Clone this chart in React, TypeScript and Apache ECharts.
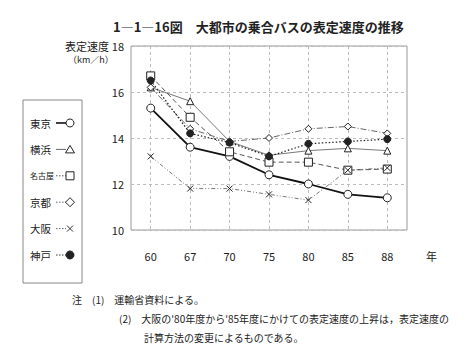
import React, { useEffect, useRef } from "react";
import * as echarts from "echarts";

const years = ["60", "67", "70", "75", "80", "85", "88"];
const tokyo = [15.3, 13.6, 13.2, 12.4, 12.0, 11.55, 11.4];
const yokohama = [16.2, 15.6, 13.85, 13.25, 13.45, 13.55, 13.45];
const nagoya = [16.7, 14.9, 13.4, 12.95, 12.95, 12.6, 12.65];
const kyoto = [16.2, 14.4, 13.85, 14.0, 14.4, 14.5, 14.2];
const osaka = [13.2, 11.8, 11.8, 11.55, 11.3, 12.6, 12.7];
const kobe = [16.5, 14.2, 13.8, 13.2, 13.75, 13.85, 13.95];
const cities = ["東京", "横浜", "名古屋", "京都", "大阪", "神戸"];

const FONT = "'Noto Sans CJK JP', sans-serif";
const X_PATH = "path://M0,0L10,10M10,0L0,10";

const styles: any[] = [
  { symbol: "circle", line: "solid", width: 1.8, color: "#111", fill: "#fff", size: 8 },
  { symbol: "triangle", line: "solid", width: 0.8, color: "#555", fill: "#fff", size: 7 },
  { symbol: "rect", line: [5, 3], width: 0.9, color: "#444", fill: "#fff", size: 8 },
  { symbol: "diamond", line: [6, 2, 1, 2], width: 0.9, color: "#555", fill: "#fff", size: 7 },
  { symbol: X_PATH, line: [4, 2, 1, 2, 1, 2], width: 0.8, color: "#555", fill: "#fff", size: 6 },
  { symbol: "circle", line: [1.5, 2], width: 1.2, color: "#222", fill: "#222", size: 7 },
];
const seriesData = [tokyo, yokohama, nagoya, kyoto, osaka, kobe];

function legendMarker(i: number, cx: number, cy: number): any {
  const st = { fill: styles[i].fill, stroke: "#222", lineWidth: 1 };
  switch (i) {
    case 0:
      return { type: "circle", shape: { cx, cy, r: 4 }, style: st };
    case 1:
      return { type: "polygon", shape: { points: [[cx, cy - 4], [cx + 4.5, cy + 3.5], [cx - 4.5, cy + 3.5]] }, style: st };
    case 2:
      return { type: "rect", shape: { x: cx - 4, y: cy - 4, width: 8, height: 8 }, style: st };
    case 3:
      return { type: "polygon", shape: { points: [[cx, cy - 4.5], [cx + 4.5, cy], [cx, cy + 4.5], [cx - 4.5, cy]] }, style: st };
    case 4:
      return {
        type: "group",
        children: [
          { type: "line", shape: { x1: cx - 3, y1: cy - 3, x2: cx + 3, y2: cy + 3 }, style: { stroke: "#333", lineWidth: 1 } },
          { type: "line", shape: { x1: cx + 3, y1: cy - 3, x2: cx - 3, y2: cy + 3 }, style: { stroke: "#333", lineWidth: 1 } },
        ],
      };
    default:
      return { type: "circle", shape: { cx, cy, r: 4 }, style: { fill: "#222", stroke: "#222", lineWidth: 1 } };
  }
}

export default function App() {
  const ref = useRef<HTMLDivElement>(null);
  useEffect(() => {
    const chart = echarts.init(ref.current!, null, { renderer: "svg" });
    const legendGraphics: any[] = [];
    cities.forEach((name, i) => {
      const cy = 123 + i * 26.4;
      legendGraphics.push({
        type: "text",
        x: 30,
        y: cy,
        style: { text: name, fontFamily: FONT, fontSize: name.length > 2 ? 8 : 10.5, fill: "#222", verticalAlign: "middle" },
      });
      legendGraphics.push({
        type: "line",
        shape: { x1: 56, y1: cy, x2: 66, y2: cy },
        style: { stroke: styles[i].color, lineWidth: i === 0 ? 1.6 : 0.9, lineDash: i === 0 || i === 1 ? null : [1.5, 1.5] },
      });
      legendGraphics.push(legendMarker(i, 70, cy));
    });

    chart.setOption({
      animation: false,
      textStyle: { fontFamily: FONT },
      title: {
        text: "1―1―16図　大都市の乗合バスの表定速度の推移",
        left: 108,
        top: 15,
        textStyle: { fontFamily: FONT, fontSize: 13, fontWeight: "bold", color: "#222" },
      },
      grid: { left: 131, top: 46, right: 66, bottom: 129, show: true, borderColor: "#999", borderWidth: 1 },
      xAxis: {
        type: "category",
        data: years,
        boundaryGap: true,
        axisLine: { show: false },
        axisTick: { show: false },
        axisLabel: { color: "#222", fontSize: 11, margin: 20, fontFamily: FONT },
        splitLine: { show: true, alignWithLabel: true, lineStyle: { color: "#bbb", type: [3, 3] } },
      },
      yAxis: {
        type: "value",
        min: 10,
        max: 18,
        interval: 2,
        axisLine: { show: false },
        axisTick: { show: false },
        axisLabel: { color: "#222", fontSize: 11, margin: 7, fontFamily: FONT },
        splitLine: { show: true, lineStyle: { color: "#bbb", type: [3, 3] } },
      },
      series: cities.map((name, i) => ({
        name,
        type: "line",
        data: seriesData[i],
        symbol: styles[i].symbol,
        symbolSize: styles[i].size,
        showAllSymbol: true,
        lineStyle: { color: styles[i].color, width: styles[i].width, type: styles[i].line },
        itemStyle: { color: styles[i].fill, borderColor: "#222", borderWidth: 1 },
        z: 3,
      })),
      graphic: [
        { type: "rect", shape: { x: 23, y: 100, width: 59, height: 183 }, style: { fill: "none", stroke: "#888", lineWidth: 1 } },
        ...legendGraphics,
        { type: "text", x: 65, y: 40, style: { text: "表定速度", fontFamily: FONT, fontSize: 11, fill: "#222" } },
        { type: "text", x: 68, y: 55, style: { text: "（km／h）", fontFamily: FONT, fontSize: 9, fill: "#222" } },
        { type: "text", x: 426, y: 250, style: { text: "年", fontFamily: FONT, fontSize: 11, fill: "#222" } },
        { type: "text", x: 72, y: 294, style: { text: "注　(1)　運輸省資料による。", fontFamily: FONT, fontSize: 10, fill: "#222" } },
        { type: "text", x: 119, y: 313, style: { text: "(2)　大阪の'80年度から'85年度にかけての表定速度の上昇は，表定速度の", fontFamily: FONT, fontSize: 10, fill: "#222" } },
        { type: "text", x: 144, y: 332, style: { text: "計算方法の変更によるものである。", fontFamily: FONT, fontSize: 10, fill: "#222" } },
      ],
    });
    return () => chart.dispose();
  }, []);
  return <div ref={ref} style={{ width: 473, height: 359, position: "absolute", left: 0, top: 0 }} />;
}
